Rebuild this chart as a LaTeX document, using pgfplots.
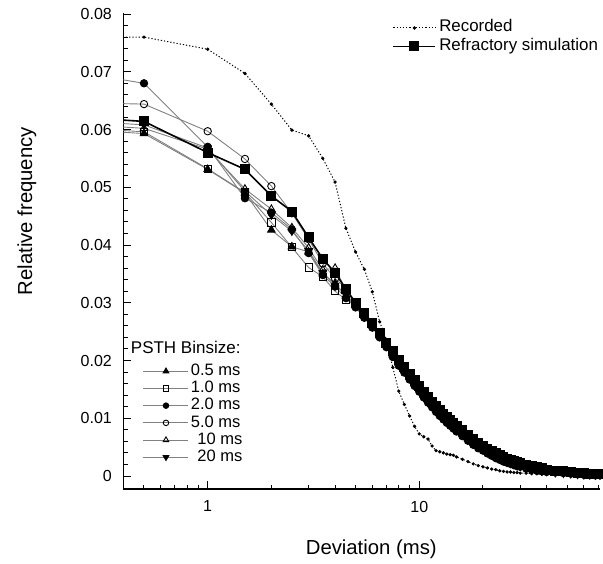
\documentclass[border=0pt]{standalone}
\usepackage{fontspec}
\setmainfont{Liberation Sans}
\usepackage{pgfplots}
\usepackage{pgfplotstable}
\pgfplotsset{compat=1.18}
\definecolor{lgray}{gray}{0.5}

\pgfplotstableread{
x rec A B C D E F S
0.37 0.0760 0.0596 0.0599 0.0688 0.0645 0.0605 0.0611 0.0617
0.5 0.0760 0.0593 0.0596 0.0680 0.0644 0.0602 0.0608 0.0614
1.0 0.0739 0.0531 0.0532 0.0570 0.0597 0.0566 0.0568 0.0560
1.5 0.0697 0.0490 0.0491 0.0481 0.0549 0.0497 0.0493 0.0531
2.0 0.0644 0.0426 0.0439 0.0456 0.0502 0.0462 0.0452 0.0485
2.5 0.0599 0.0397 0.0396 0.0427 0.0455 0.0430 0.0424 0.0458
3.0 0.0589 0.0388 0.0361 0.0386 0.0410 0.0395 0.0390 0.0413
3.5 0.0550 0.0350 0.0345 0.0348 0.0368 0.0357 0.0352 0.0376
4.0 0.0509 0.0334 0.0320 0.0328 0.0342 0.0360 0.0330 0.0352
4.5 0.0429 0.0312 0.0305 0.0308 0.0325 0.0322 0.0315 0.0324
5.0 0.0388 0.0295 0.0298 0.0292 0.0299 0.0297 0.0294 0.0300
5.5 0.0358 0.0277 0.0280 0.0274 0.0281 0.0279 0.0276 0.0282
6.0 0.0319 0.0260 0.0263 0.0257 0.0264 0.0262 0.0259 0.0265
6.5 0.0267 0.0243 0.0246 0.0240 0.0247 0.0245 0.0242 0.0248
7.0 0.0236 0.0226 0.0229 0.0223 0.0230 0.0228 0.0225 0.0231
7.5 0.0188 0.0210 0.0213 0.0206 0.0214 0.0212 0.0209 0.0216
8.0 0.0147 0.0195 0.0198 0.0191 0.0199 0.0197 0.0194 0.0201
8.5 0.0124 0.0183 0.0186 0.0179 0.0187 0.0185 0.0182 0.0189
9.0 0.0104 0.0171 0.0174 0.0167 0.0175 0.0173 0.0170 0.0177
9.5 0.0086 0.0160 0.0163 0.0156 0.0164 0.0162 0.0159 0.0166
10 0.0073 0.0150 0.0153 0.0146 0.0154 0.0152 0.0149 0.0156
10.5 0.0068 0.0140 0.0143 0.0136 0.0144 0.0142 0.0139 0.0146
11 0.0064 0.0131 0.0134 0.0127 0.0135 0.0133 0.0130 0.0137
11.5 0.0052 0.0123 0.0126 0.0119 0.0127 0.0125 0.0122 0.0129
12 0.0044 0.0115 0.0118 0.0111 0.0119 0.0117 0.0114 0.0121
12.5 0.0042 0.0108 0.0111 0.0104 0.0112 0.0110 0.0107 0.0114
13 0.0040 0.0102 0.0105 0.0098 0.0106 0.0104 0.0101 0.0108
13.5 0.0038 0.0096 0.0099 0.0092 0.0100 0.0098 0.0095 0.0102
14 0.0037 0.0091 0.0094 0.0087 0.0095 0.0093 0.0090 0.0097
14.5 0.0036 0.0086 0.0089 0.0082 0.0090 0.0088 0.0085 0.0092
15 0.0033 0.0081 0.0084 0.0077 0.0085 0.0083 0.0080 0.0087
16 0.0029 0.0073 0.0076 0.0069 0.0077 0.0075 0.0072 0.0079
17 0.0025 0.0065 0.0068 0.0061 0.0069 0.0067 0.0064 0.0071
18 0.0021 0.0058 0.0061 0.0054 0.0062 0.0060 0.0057 0.0064
19 0.0018 0.0052 0.0055 0.0048 0.0056 0.0054 0.0051 0.0058
20 0.0016 0.0047 0.0050 0.0044 0.0050 0.0048 0.0046 0.0052
21 0.0014 0.0042 0.0045 0.0039 0.0045 0.0043 0.0041 0.0047
22 0.0012 0.0038 0.0041 0.0035 0.0041 0.0039 0.0037 0.0043
23 0.0011 0.0034 0.0037 0.0031 0.0037 0.0035 0.0033 0.0039
24 0.0009 0.0031 0.0034 0.0028 0.0034 0.0032 0.0030 0.0036
25 0.0008 0.0028 0.0031 0.0025 0.0031 0.0029 0.0027 0.0033
26 0.0007 0.0025 0.0028 0.0023 0.0028 0.0026 0.0024 0.0030
27 0.0007 0.0023 0.0026 0.0021 0.0026 0.0024 0.0022 0.0028
28 0.0006 0.0021 0.0024 0.0019 0.0024 0.0022 0.0020 0.0026
29 0.0006 0.0019 0.0022 0.0017 0.0022 0.0020 0.0018 0.0024
30 0.0005 0.0018 0.0020 0.0016 0.0020 0.0019 0.0017 0.0022
32 0.0005 0.0015 0.0017 0.0013 0.0017 0.0016 0.0014 0.0019
34 0.0004 0.0013 0.0015 0.0011 0.0015 0.0014 0.0012 0.0017
36 0.0004 0.0011 0.0013 0.0009 0.0013 0.0012 0.0010 0.0015
38 0.0003 0.0010 0.0012 0.0008 0.0012 0.0011 0.0009 0.0013
40 0.0003 0.0009 0.0010 0.0007 0.0010 0.0009 0.0008 0.0011
44 0.0003 0.0007 0.0008 0.0006 0.0008 0.0007 0.0006 0.0009
48 0.0002 0.0006 0.0007 0.0005 0.0007 0.0006 0.0005 0.0008
52 0.0002 0.0005 0.0006 0.0004 0.0006 0.0005 0.0004 0.0007
56 0.0002 0.0004 0.0005 0.0003 0.0005 0.0004 0.0003 0.0006
60 0.0001 0.0003 0.0004 0.0002 0.0004 0.0003 0.0002 0.0005
64 0.0001 0.0003 0.0004 0.0002 0.0004 0.0003 0.0002 0.0004
68 0.0001 0.0002 0.0003 0.0001 0.0003 0.0002 0.0002 0.0004
71.5 0.0001 0.0002 0.0003 0.0001 0.0003 0.0002 0.0002 0.0004
}\data

\tikzset{
  mygrayline/.style={color=lgray, line width=0.9pt},
  myentry/.style={text height=12pt, text depth=3.5pt},
}

\begin{document}
\begin{tikzpicture}
\useasboundingbox (-123.5pt,-74pt) rectangle (479.5pt,489pt);
\begin{axis}[
  width=476.5pt, height=476.5pt, scale only axis,
  xmode=log, xmin=0.4, xmax=71.5, ymin=-0.00225, ymax=0.08026,
  at={(0pt,0pt)}, anchor=south west,
  axis x line=bottom, axis y line=left,
  axis line style={-, line width=1.2pt},
  tick align=inside,
  major tick length=8pt, minor tick length=4.5pt,
  every tick/.style={black, line width=1pt},
  xtick={1,10}, xticklabels={1,10},
  minor xtick={0.5,0.6,0.7,0.8,0.9,2,3,4,5,6,7,8,9,20,30,40,50,60,70},
  ytick={0,0.01,0.02,0.03,0.04,0.05,0.06,0.07,0.08},
  minor y tick num=4,
  scaled y ticks=false,
  /pgf/number format/assume math mode=true,
  yticklabel style={/pgf/number format/fixed, /pgf/number format/precision=2, inner sep=0pt, xshift=-11.5pt},
  xticklabel style={inner sep=0pt, yshift=-11.7pt},
  ticklabel style={font=\fontsize{16}{19}\selectfont},
  xlabel={Deviation (ms)}, ylabel={Relative frequency},
  every axis x label/.style={at={(axis description cs:0.52,0)}, anchor=base, yshift=-65pt, font=\fontsize{20.3}{24}\selectfont},
  every axis y label/.style={at={(axis description cs:-0.192,0.583)}, anchor=base, rotate=90, font=\fontsize{20.3}{24}\selectfont},
  legend style={at={(0.041,0.3106)}, anchor=north west, draw=none, fill=none, inner sep=0pt, outer sep=0pt,
    row sep=1.7pt, column sep=2pt, font=\fontsize{16.5}{19}\selectfont, nodes={inner sep=0pt}},
  legend cell align=left,
  legend image code/.code={\draw[mark repeat=2,mark phase=2] plot coordinates {(0pt,0pt) (22.5pt,0pt) (45pt,0pt)};},
  legend image post style={every mark/.append style={scale=0.75}},
]
\addlegendimage{empty legend}
\addlegendentry[text height=12pt, text depth=8.8pt]{\hspace*{-60pt}\fontsize{17}{20}\selectfont PSTH Binsize:}
\addplot[mygrayline, mark=triangle*, mark size=4.3pt, mark options={fill=black, draw=black, solid}] table[x=x,y=A]{\data};
\addlegendentry[myentry]{0.5 ms}
\addplot[mygrayline, mark=square, mark size=3.6pt, mark options={draw=black, solid}] table[x=x,y=B]{\data};
\addlegendentry[myentry]{1.0 ms}
\addplot[mygrayline, mark=*, mark size=3.7pt, mark options={fill=black, draw=black, solid}] table[x=x,y=C]{\data};
\addlegendentry[myentry]{2.0 ms}
\addplot[mygrayline, mark=o, mark size=3.7pt, mark options={draw=black, solid}] table[x=x,y=D]{\data};
\addlegendentry[myentry]{5.0 ms}
\addplot[mygrayline, mark=triangle, mark size=4.3pt, mark options={draw=black, solid}] table[x=x,y=E]{\data};
\addlegendentry[myentry]{\hspace*{6.5pt}10 ms}
\addplot[mygrayline, mark=triangle*, mark size=4.3pt, mark options={rotate=180, fill=black, draw=black, solid}] table[x=x,y=F]{\data};
\addlegendentry[myentry]{\hspace*{6.5pt}20 ms}
\end{axis}
\begin{axis}[
  width=476.5pt, height=476.5pt, scale only axis,
  xmode=log, xmin=0.4, xmax=71.5, ymin=-0.00225, ymax=0.08026,
  at={(0pt,0pt)}, anchor=south west,
  hide axis,
  legend style={at={(0.9958,0.9843)}, anchor=north east, draw=none, fill=none, inner sep=0pt, outer sep=0pt,
    row sep=2.5pt, column sep=3pt, font=\fontsize{16.9}{20}\selectfont, nodes={inner sep=0pt, text height=12pt, text depth=4pt}},
  legend cell align=left,
  legend image code/.code={\draw[mark repeat=2,mark phase=2] plot coordinates {(0pt,0pt) (21pt,0pt) (42pt,0pt)};},
]
\addplot[black, line width=1pt, dash pattern=on 1.2pt off 2pt, mark=*, mark size=1.1pt, mark options={solid}] table[x=x,y=rec]{\data};
\addlegendentry{Recorded}
\addplot[black, line width=1.6pt, mark=square*, mark size=4.2pt, mark options={solid}] table[x=x,y=S]{\data};
\addlegendentry{Refractory simulation}
\end{axis}
\end{tikzpicture}
\end{document}
